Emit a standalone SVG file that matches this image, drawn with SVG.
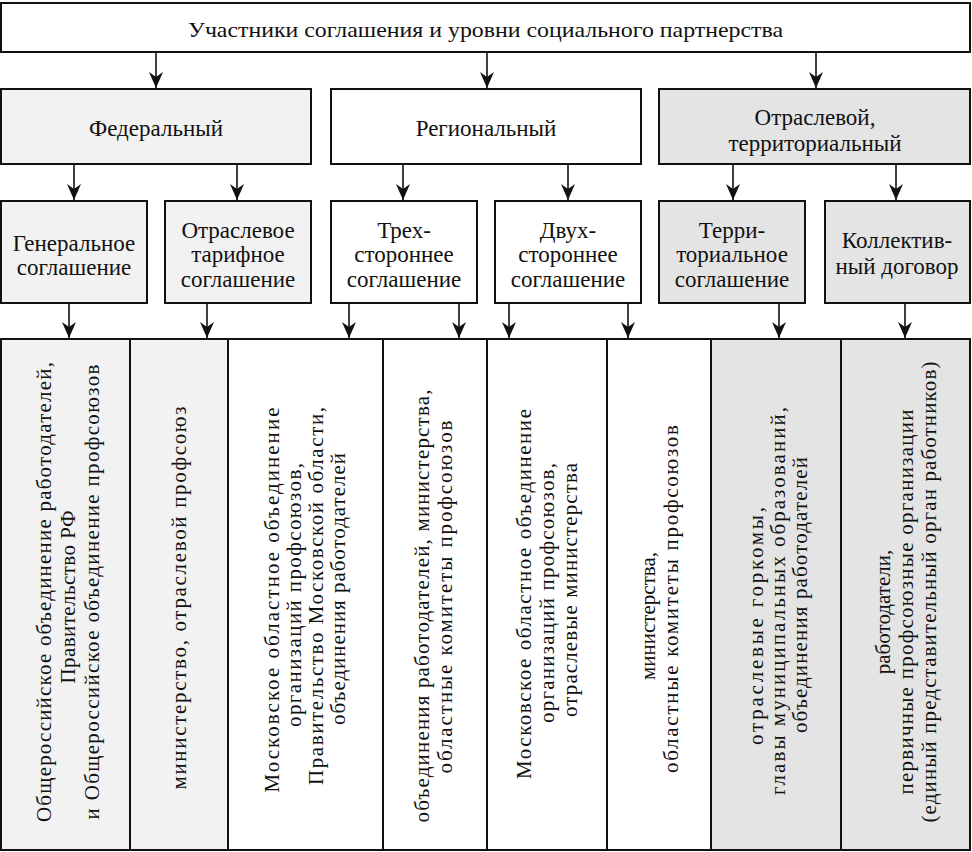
<svg xmlns="http://www.w3.org/2000/svg" width="972" height="852" viewBox="0 0 972 852">
<style>
.box{stroke:#111;stroke-width:2}
.w{fill:#ffffff}
.l{fill:#f2f2f2}
.g{fill:#e4e4e4}
text{font-family:"Liberation Serif","Times New Roman",serif;fill:#111;text-anchor:middle}
.t1{font-size:22px}
.t2{font-size:23px}
.t3{font-size:23px}
.t4{font-size:21px}
.con line{stroke:#111;stroke-width:1.6;marker-end:url(#ah)}
</style>
<defs>
<marker id="ah" markerUnits="userSpaceOnUse" markerWidth="16" markerHeight="14" viewBox="0 0 16 14" refX="16" refY="7" orient="auto">
<path d="M0,0 L16,7 L0,14 L5,7 Z" fill="#111"/>
</marker>
</defs>
<rect x="0" y="0" width="972" height="852" fill="#ffffff"/>

<g id="title">
<rect class="box w" x="1" y="3" width="969" height="49"/>
<text class="t1" x="485.5" y="37" textLength="595" lengthAdjust="spacingAndGlyphs">Участники соглашения и уровни социального партнерства</text>
</g>

<g id="federal">
<rect class="box l" x="1" y="89" width="310" height="75"/>
<text class="t2" x="156" y="136">Федеральный</text>
</g>
<g id="regional">
<rect class="box w" x="331" y="89" width="310" height="75"/>
<text class="t2" x="486" y="136">Региональный</text>
</g>
<g id="sectoral">
<rect class="box g" x="659" y="89" width="311" height="75"/>
<text class="t2" x="815" y="125">Отраслевой,</text>
<text class="t2" x="815" y="151">территориальный</text>
</g>

<g id="general">
<rect class="box l" x="1" y="201" width="146" height="102"/>
<text class="t3" x="74" y="251">Генеральное</text>
<text class="t3" x="74" y="275">соглашение</text>
</g>
<g id="tariff">
<rect class="box l" x="165" y="201" width="146" height="102"/>
<text class="t3" x="238" y="238">Отраслевое</text>
<text class="t3" x="238" y="262">тарифное</text>
<text class="t3" x="238" y="287">соглашение</text>
</g>
<g id="tripartite">
<rect class="box w" x="331" y="201" width="146" height="102"/>
<text class="t3" x="404" y="238">Трех-</text>
<text class="t3" x="404" y="262">стороннее</text>
<text class="t3" x="404" y="287">соглашение</text>
</g>
<g id="bilateral">
<rect class="box w" x="495" y="201" width="146" height="102"/>
<text class="t3" x="568" y="238">Двух-</text>
<text class="t3" x="568" y="262">стороннее</text>
<text class="t3" x="568" y="287">соглашение</text>
</g>
<g id="territorial">
<rect class="box g" x="659" y="201" width="146" height="102"/>
<text class="t3" x="732" y="238">Терри-</text>
<text class="t3" x="732" y="262">ториальное</text>
<text class="t3" x="732" y="287">соглашение</text>
</g>
<g id="collective">
<rect class="box g" x="825" y="201" width="145" height="102"/>
<text class="t3" x="897" y="248">Коллектив-</text>
<text class="t3" x="897" y="274">ный договор</text>
</g>

<g id="col1">
<rect class="box l" x="1" y="339" width="129" height="511"/>
<text class="t4" transform="translate(51,592) rotate(-90)" textLength="460" lengthAdjust="spacing">Общероссийское объединение работодателей,</text>
<text class="t4" transform="translate(75,597) rotate(-90)" textLength="173" lengthAdjust="spacing">Правительство РФ</text>
<text class="t4" transform="translate(99,592) rotate(-90)" textLength="455" lengthAdjust="spacing">и Общероссийское объединение профсоюзов</text>
</g>
<g id="col2">
<rect class="box l" x="130" y="339" width="98" height="511"/>
<text class="t4" transform="translate(186,598) rotate(-90)" textLength="383" lengthAdjust="spacing">министерство, отраслевой профсоюз</text>
</g>
<g id="col3">
<rect class="box w" x="228" y="339" width="155" height="511"/>
<text class="t4" transform="translate(279,600) rotate(-90)" textLength="385" lengthAdjust="spacing">Московское областное объединение</text>
<text class="t4" transform="translate(301,595) rotate(-90)" textLength="264" lengthAdjust="spacing">организаций профсоюзов,</text>
<text class="t4" transform="translate(323,596) rotate(-90)" textLength="378" lengthAdjust="spacing">Правительство Московской области,</text>
<text class="t4" transform="translate(345,589) rotate(-90)" textLength="272" lengthAdjust="spacing">объединения работодателей</text>
</g>
<g id="col4">
<rect class="box w" x="383" y="339" width="104" height="511"/>
<text class="t4" transform="translate(429,606) rotate(-90)" textLength="433" lengthAdjust="spacing">объединения работодателей, министерства,</text>
<text class="t4" transform="translate(452,597) rotate(-90)" textLength="353" lengthAdjust="spacing">областные комитеты профсоюзов</text>
</g>
<g id="col5">
<rect class="box w" x="487" y="339" width="120" height="511"/>
<text class="t4" transform="translate(531,594) rotate(-90)" textLength="370" lengthAdjust="spacing">Московское областное объединение</text>
<text class="t4" transform="translate(554,593) rotate(-90)" textLength="260" lengthAdjust="spacing">организаций профсоюзов,</text>
<text class="t4" transform="translate(577,590) rotate(-90)" textLength="254" lengthAdjust="spacing">отраслевые министерства</text>
</g>
<g id="col6">
<rect class="box w" x="607" y="339" width="104" height="511"/>
<text class="t4" transform="translate(655,616) rotate(-90)">министерства,</text>
<text class="t4" transform="translate(678,599) rotate(-90)" textLength="348" lengthAdjust="spacing">областные комитеты профсоюзов</text>
</g>
<g id="col7">
<rect class="box g" x="711" y="339" width="130" height="511"/>
<text class="t4" transform="translate(763,626) rotate(-90)" textLength="238" lengthAdjust="spacing">отраслевые горкомы,</text>
<text class="t4" transform="translate(785,601) rotate(-90)" textLength="388" lengthAdjust="spacing">главы муниципальных образований,</text>
<text class="t4" transform="translate(807,595) rotate(-90)" textLength="276" lengthAdjust="spacing">объединения работодателей</text>
</g>
<g id="col8">
<rect class="box g" x="841" y="339" width="129" height="511"/>
<text class="t4" transform="translate(890,612) rotate(-90)">работодатели,</text>
<text class="t4" transform="translate(913,602) rotate(-90)" textLength="385" lengthAdjust="spacing">первичные профсоюзные организации</text>
<text class="t4" transform="translate(936,592) rotate(-90)" textLength="461" lengthAdjust="spacing">(единый представительный орган работников)</text>
</g>

<g id="connectors" class="con">
<line x1="156" y1="52" x2="156" y2="88"/>
<line x1="487" y1="52" x2="487" y2="88"/>
<line x1="816" y1="52" x2="816" y2="88"/>
<line x1="74" y1="164" x2="74" y2="200"/>
<line x1="237" y1="164" x2="237" y2="200"/>
<line x1="403" y1="164" x2="403" y2="200"/>
<line x1="568" y1="164" x2="568" y2="200"/>
<line x1="733" y1="164" x2="733" y2="200"/>
<line x1="896" y1="164" x2="896" y2="200"/>
<line x1="69" y1="303" x2="69" y2="338"/>
<line x1="207" y1="303" x2="207" y2="338"/>
<line x1="349" y1="303" x2="349" y2="338"/>
<line x1="459" y1="303" x2="459" y2="338"/>
<line x1="509" y1="303" x2="509" y2="338"/>
<line x1="628" y1="303" x2="628" y2="338"/>
<line x1="779" y1="303" x2="779" y2="338"/>
<line x1="905" y1="303" x2="905" y2="338"/>
</g>
</svg>
